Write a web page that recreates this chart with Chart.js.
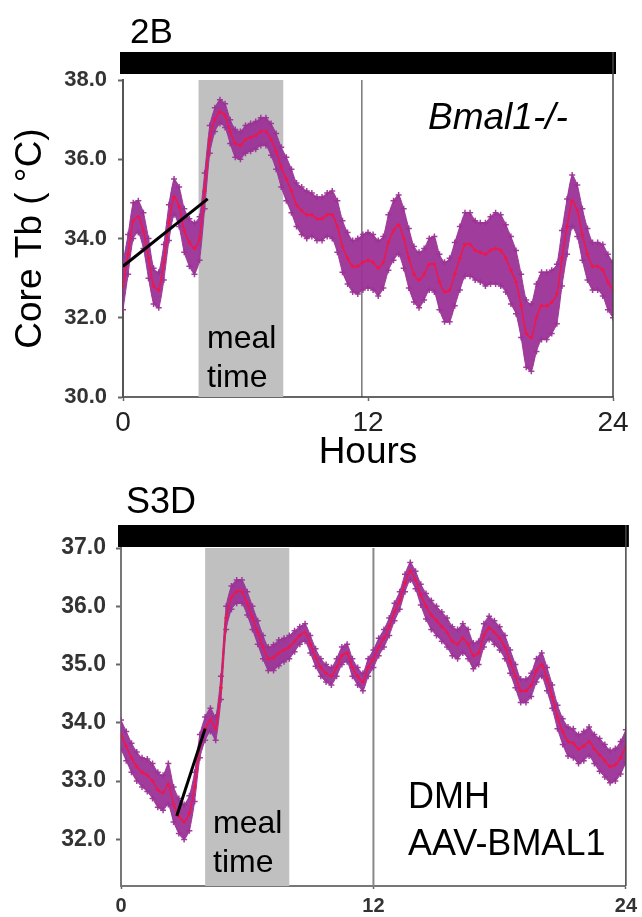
<!DOCTYPE html>
<html>
<head>
<meta charset="utf-8">
<script src="https://cdn.jsdelivr.net/npm/chart.js@4.4.1/dist/chart.umd.min.js"></script>
<style>
  html, body { margin: 0; padding: 0; background: #fff; }
  #wrap { position: relative; width: 642px; height: 917px; }
  .panel { position: absolute; left: 0; width: 642px; }
  #top { top: 0; height: 480px; }
  #bottom { top: 480px; height: 437px; }
</style>
</head>
<body>
<div id="wrap">
  <div class="panel" id="top"><canvas id="chartTop" width="642" height="480"></canvas></div>
  <div class="panel" id="bottom"><canvas id="chartBottom" width="642" height="437"></canvas></div>
</div>
<script>
// sample times (hours), shared by both panels
var hours = [
  0, 0.25, 0.5, 0.75, 1, 1.25, 1.5, 1.75,
  2, 2.25, 2.5, 2.75, 3, 3.25, 3.5, 3.75,
  4, 4.25, 4.5, 4.75, 5, 5.25, 5.5, 5.75,
  6, 6.25, 6.5, 6.75, 7, 7.25, 7.5, 7.75,
  8, 8.25, 8.5, 8.75, 9, 9.25, 9.5, 9.75,
  10, 10.25, 10.5, 10.75, 11, 11.25, 11.5, 11.75,
  12, 12.25, 12.5, 12.75, 13, 13.25, 13.5, 13.75,
  14, 14.25, 14.5, 14.75, 15, 15.25, 15.5, 15.75,
  16, 16.25, 16.5, 16.75, 17, 17.25, 17.5, 17.75,
  18, 18.25, 18.5, 18.75, 19, 19.25, 19.5, 19.75,
  20, 20.25, 20.5, 20.75, 21, 21.25, 21.5, 21.75,
  22, 22.25, 22.5, 22.75, 23, 23.25, 23.5, 23.75,
  24
];

// 2B: Bmal1-/- core Tb, mean and SEM
var meanTop = [
  32.8, 33.6, 34.45, 34.55, 34.2, 33.5, 32.8, 32.7,
  33.4, 34.4, 35.05, 34.8, 34.2, 33.9, 33.75, 34.0,
  35.2, 36.5, 37.0, 37.2, 37.1, 36.7, 36.4, 36.35,
  36.5, 36.55, 36.6, 36.7, 36.7, 36.5, 36.2, 35.8,
  35.5, 35.2, 34.85, 34.7, 34.6, 34.6, 34.5, 34.5,
  34.6, 34.6, 34.3, 33.8, 33.5, 33.3, 33.3, 33.4,
  33.45, 33.4, 33.25, 33.4, 33.9, 34.2, 34.35, 34.0,
  33.5, 33.1, 32.95, 33.1, 33.35, 33.35, 32.9, 32.65,
  32.7, 33.1, 33.5, 33.85, 33.85, 33.7, 33.65, 33.6,
  33.7, 33.75, 33.7, 33.5, 33.2, 32.9, 32.3, 31.6,
  31.5, 32.0, 32.3, 32.3, 32.4, 32.6, 33.5, 34.3,
  34.95, 34.7, 34.1, 33.6, 33.3, 33.3, 33.2, 32.9,
  32.7
];
var semTop = [
  0.6, 0.5, 0.45, 0.4, 0.45, 0.5, 0.45, 0.45,
  0.45, 0.45, 0.45, 0.5, 0.55, 0.6, 0.65, 0.55,
  0.45, 0.35, 0.3, 0.3, 0.3, 0.3, 0.35, 0.35,
  0.35, 0.35, 0.35, 0.35, 0.35, 0.4, 0.45, 0.5,
  0.55, 0.55, 0.55, 0.6, 0.6, 0.55, 0.55, 0.55,
  0.55, 0.6, 0.65, 0.65, 0.65, 0.65, 0.7, 0.7,
  0.7, 0.7, 0.7, 0.65, 0.7, 0.75, 0.75, 0.75,
  0.75, 0.7, 0.7, 0.65, 0.65, 0.7, 0.7, 0.75,
  0.8, 0.8, 0.8, 0.8, 0.8, 0.75, 0.75, 0.8,
  0.85, 0.9, 0.9, 0.85, 0.85, 0.8, 0.8, 0.85,
  0.85, 0.85, 0.85, 0.85, 0.8, 0.75, 0.7, 0.7,
  0.65, 0.65, 0.65, 0.65, 0.6, 0.6, 0.65, 0.7,
  0.7
];

// S3D: DMH AAV-BMAL1 core Tb, mean and SEM
var meanBottom = [
  33.8, 33.6, 33.4, 33.25, 33.15, 33.1, 33.0, 32.85,
  32.8, 32.95, 32.6, 32.4, 32.3, 32.45, 32.9, 33.6,
  33.9, 34.05, 33.9, 34.6, 35.8, 36.15, 36.25, 36.25,
  36.05, 35.8, 35.55, 35.3, 35.1, 35.12, 35.2, 35.25,
  35.3, 35.4, 35.5, 35.55, 35.35, 35.12, 34.95, 34.85,
  34.8, 34.95, 35.15, 35.2, 34.95, 34.8, 34.7, 34.95,
  35.1, 35.3, 35.45, 35.65, 35.9, 36.1, 36.4, 36.6,
  36.45, 36.2, 36.0, 35.85, 35.75, 35.65, 35.55, 35.4,
  35.35, 35.45, 35.35, 35.15, 35.2, 35.5, 35.63, 35.55,
  35.45, 35.3, 35.05, 34.8, 34.55, 34.55, 34.65, 34.9,
  35.0, 34.75, 34.45, 34.1, 33.85, 33.68, 33.65, 33.55,
  33.6, 33.68, 33.55, 33.45, 33.35, 33.25, 33.28, 33.4,
  33.6
];
var semBottom = [
  0.25, 0.25, 0.25, 0.25, 0.25, 0.28, 0.3, 0.3,
  0.3, 0.35, 0.3, 0.3, 0.3, 0.3, 0.25, 0.2,
  0.2, 0.2, 0.2, 0.2, 0.2, 0.2, 0.2, 0.2,
  0.2, 0.2, 0.2, 0.2, 0.2, 0.22, 0.22, 0.2,
  0.2, 0.18, 0.15, 0.15, 0.15, 0.15, 0.15, 0.15,
  0.15, 0.15, 0.15, 0.15, 0.15, 0.15, 0.15, 0.15,
  0.15, 0.15, 0.15, 0.15, 0.15, 0.15, 0.15, 0.15,
  0.15, 0.18, 0.22, 0.25, 0.25, 0.25, 0.25, 0.25,
  0.25, 0.25, 0.25, 0.22, 0.2, 0.2, 0.2, 0.2,
  0.2, 0.2, 0.2, 0.2, 0.2, 0.2, 0.2, 0.2,
  0.2, 0.2, 0.2, 0.2, 0.22, 0.25, 0.25, 0.25,
  0.25, 0.25, 0.25, 0.28, 0.28, 0.28, 0.28, 0.28,
  0.28
];

// black regression lines before meal time
var trendTopX = [0, 4.15];
var trendTopY = [33.3, 35.0];
var trendBottomX = [2.65, 4.0];
var trendBottomY = [32.4, 33.9];

// meal window and mid-day line (hours)
var mealTop = [3.7, 7.85];
var mealBottom = [4, 8];
var dividerTop = 11.7;
var dividerBottom = 12;

// tick labels
var xTicks = [0, 12, 24];
var yTicksTop = [30, 32, 34, 36, 38];
var yTicksBottom = [32, 33, 34, 35, 36, 37];

var FONT = '"Liberation Sans", Arial, sans-serif';
var BAND = 'rgba(155, 50, 150, 0.95)';
var RED = 'rgba(245, 20, 70, 0.95)';

function pts(xs, ys) {
  return xs.map(function(x, i) { return { x: x, y: ys[i] }; });
}

function bandDatasets(mean, sem, trendX, trendY) {
  var upper = mean.map(function(m, i) { return m + sem[i]; });
  var lower = mean.map(function(m, i) { return m - sem[i]; });
  var edge = {
    borderColor: BAND, borderWidth: 1, pointStyle: 'cross', order: 3,
    pointRadius: 3, pointBorderColor: BAND, pointBorderWidth: 1.5, tension: 0.2
  };
  return [
    Object.assign({ data: pts(hours, upper), backgroundColor: BAND, fill: '+1' }, edge),
    Object.assign({ data: pts(hours, lower), fill: false }, edge),
    { data: pts(hours, mean), borderColor: RED, borderWidth: 1.5, pointRadius: 2, order: 2,
      pointStyle: 'cross', pointBorderColor: RED, pointBorderWidth: 1.2, fill: false, tension: 0.2 },
    { data: pts(trendX, trendY), borderColor: '#000', borderWidth: 3, pointRadius: 0, fill: false, order: 1 }
  ];
}

// meal shading, divider, black bar, frame and labels
var panelDecor = {
  id: 'panelDecor',
  beforeDatasetsDraw: function(chart, args, o) {
    var ctx = chart.ctx, a = chart.chartArea, x = chart.scales.x;
    ctx.save();
    var m0 = x.getPixelForValue(o.meal[0]), m1 = x.getPixelForValue(o.meal[1]);
    ctx.fillStyle = '#c0c0c0';
    ctx.fillRect(m0, a.top, m1 - m0, a.bottom - a.top);
    var d = x.getPixelForValue(o.divider);
    ctx.strokeStyle = o.dividerColor;
    ctx.lineWidth = o.dividerWidth;
    ctx.beginPath(); ctx.moveTo(d, a.top); ctx.lineTo(d, a.bottom); ctx.stroke();
    ctx.restore();
  },
  afterDraw: function(chart, args, o) {
    var ctx = chart.ctx, a = chart.chartArea;
    ctx.save();
    ctx.fillStyle = '#000';
    ctx.fillRect(a.left - 3, a.top - o.barTop, a.right - a.left + 6, o.barHeight);
    ctx.strokeStyle = '#444';
    ctx.lineWidth = 1.5;
    ctx.beginPath(); ctx.moveTo(a.right, a.top - o.barTop); ctx.lineTo(a.right, a.bottom); ctx.stroke();
    ctx.textBaseline = 'alphabetic';
    ctx.textAlign = 'left';
    o.texts.forEach(function(t) {
      ctx.font = t.font;
      ctx.fillStyle = '#000';
      ctx.fillText(t.text, t.x, t.y);
    });
    ctx.restore();
  }
};

function fixTicks(list) {
  return function(scale) {
    scale.ticks = list.map(function(v) { return { value: v }; });
  };
}

// top panel (2B)
new Chart(document.getElementById('chartTop'), {
  type: 'line',
  data: { datasets: bandDatasets(meanTop, semTop, trendTopX, trendTopY) },
  options: {
    responsive: false,
    animation: false,
    layout: { padding: { top: 80, right: 29, bottom: 5, left: 0 } },
    plugins: {
      legend: { display: false },
      tooltip: { enabled: false },
      panelDecor: {
        meal: mealTop, divider: dividerTop, dividerColor: '#333', dividerWidth: 1,
        barTop: 28, barHeight: 22,
        texts: [
          { text: '2B', x: 130, y: 43, font: '35px ' + FONT },
          { text: 'Bmal1-/-', x: 428, y: 129, font: 'italic 37px ' + FONT },
          { text: 'meal', x: 207, y: 348, font: '32px ' + FONT },
          { text: 'time', x: 207, y: 387, font: '32px ' + FONT }
        ]
      }
    },
    scales: {
      x: {
        type: 'linear', min: 0, max: 24,
        afterBuildTicks: fixTicks(xTicks),
        afterFit: function(s) { s.height = 78; },
        grid: { drawOnChartArea: false, tickLength: 4, color: '#666', tickWidth: 1.5 },
        border: { color: '#666', width: 2 },
        ticks: { padding: 5, color: '#222', font: { family: FONT, size: 28 }, maxRotation: 0 },
        title: { display: true, text: 'Hours', color: '#000', padding: { top: 0, bottom: 0 },
                 font: { family: FONT, size: 37 } }
      },
      y: {
        min: 30, max: 38,
        afterBuildTicks: fixTicks(yTicksTop),
        afterFit: function(s) { s.width = 123; },
        grid: { drawOnChartArea: false, tickLength: 5, color: '#666', tickWidth: 2 },
        border: { color: '#555', width: 2 },
        ticks: { padding: 11, color: '#333', font: { family: FONT, size: 22, weight: 'bold' },
                 callback: function(v) { return v.toFixed(1); } },
        title: { display: true, text: 'Core Tb ( °C)', color: '#000', padding: { top: 9, bottom: 0 },
                 font: { family: FONT, size: 37 } }
      }
    }
  },
  plugins: [panelDecor]
});

// bottom panel (S3D)
new Chart(document.getElementById('chartBottom'), {
  type: 'line',
  data: { datasets: bandDatasets(meanBottom, semBottom, trendBottomX, trendBottomY) },
  options: {
    responsive: false,
    animation: false,
    layout: { padding: { top: 68, right: 16, bottom: 0, left: 0 } },
    plugins: {
      legend: { display: false },
      tooltip: { enabled: false },
      panelDecor: {
        meal: mealBottom, divider: dividerBottom, dividerColor: '#888', dividerWidth: 2,
        barTop: 23, barHeight: 22,
        texts: [
          { text: 'S3D', x: 126, y: 33, font: '36px ' + FONT },
          { text: 'meal', x: 213, y: 353, font: '32px ' + FONT },
          { text: 'time', x: 213, y: 392, font: '32px ' + FONT },
          { text: 'DMH', x: 408, y: 328, font: '36px ' + FONT },
          { text: 'AAV-BMAL1', x: 408, y: 375, font: '36px ' + FONT }
        ]
      }
    },
    scales: {
      x: {
        type: 'linear', min: 0, max: 24,
        afterBuildTicks: fixTicks(xTicks),
        afterFit: function(s) { s.height = 31; },
        grid: { drawOnChartArea: false, tickLength: 3, color: '#666', tickWidth: 1.5 },
        border: { color: '#777', width: 2 },
        ticks: { padding: 5, color: '#333', font: { family: FONT, size: 20, weight: 'bold' }, maxRotation: 0 }
      },
      y: {
        min: 31.2, max: 37,
        afterBuildTicks: fixTicks(yTicksBottom),
        afterFit: function(s) { s.width = 121; },
        grid: { drawOnChartArea: false, tickLength: 5, color: '#666', tickWidth: 2 },
        border: { color: '#777', width: 2 },
        ticks: { padding: 10, color: '#333', font: { family: FONT, size: 23, weight: 'bold' },
                 callback: function(v) { return v.toFixed(1); } }
      }
    }
  },
  plugins: [panelDecor]
});
</script>
</body>
</html>
